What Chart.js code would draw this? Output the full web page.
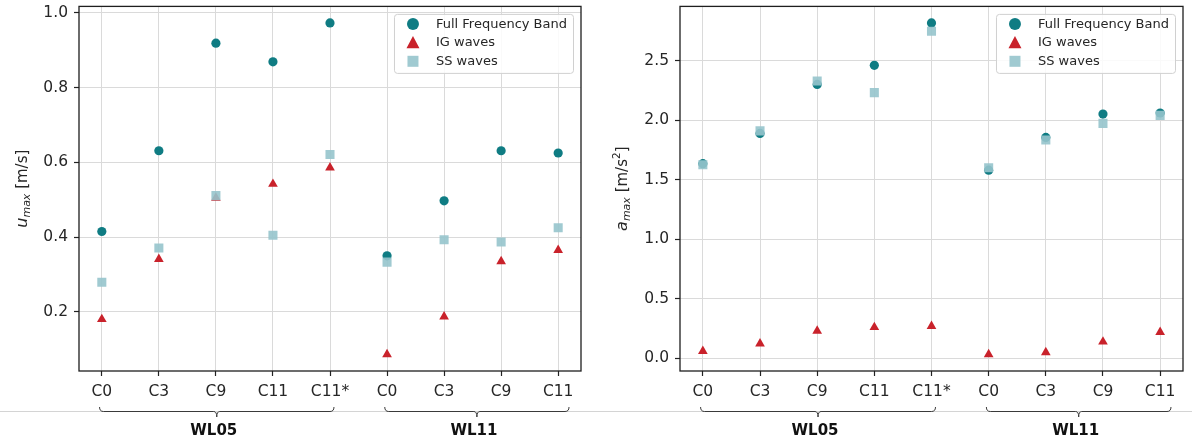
<!DOCTYPE html>
<html>
<head>
<meta charset="utf-8">
<script src="https://cdn.jsdelivr.net/npm/chart.js@4/dist/chart.umd.min.js"></script>
<style>
  html, body { margin: 0; padding: 0; background: #ffffff; }
  #wrap { position: relative; width: 1192px; height: 446px; overflow: hidden; }
  canvas { position: absolute; top: 0; }
</style>
</head>
<body>
<div id="wrap">
  <canvas id="cu" width="596" height="446" style="left:0px"></canvas>
  <canvas id="ca" width="596" height="446" style="left:596px"></canvas>
</div>
<script>
// ---------------- data ----------------
const categories = ['C0', 'C3', 'C9', 'C11', 'C11*', 'C0', 'C3', 'C9', 'C11'];
const groupLabels = ['WL05', 'WL11'];
const groupStart = [0, 5];
const groupEnd = [4, 8];
const seriesNames = ['Full Frequency Band', 'IG waves', 'SS waves'];

const uFull = [0.415, 0.631, 0.919, 0.869, 0.973, 0.350, 0.497, 0.631, 0.625];
const uIG   = [0.180, 0.341, 0.505, 0.542, 0.586, 0.086, 0.187, 0.335, 0.365];
const uSS   = [0.279, 0.371, 0.511, 0.405, 0.621, 0.333, 0.393, 0.387, 0.425];

const aFull = [1.635, 1.889, 2.300, 2.460, 2.816, 1.580, 1.855, 2.051, 2.060];
const aIG   = [0.061, 0.123, 0.231, 0.261, 0.270, 0.033, 0.050, 0.139, 0.220];
const aSS   = [1.625, 1.910, 2.329, 2.231, 2.746, 1.600, 1.834, 1.973, 2.040];

const uTicks = [0.2, 0.4, 0.6, 0.8, 1.0];
const aTicks = [0.0, 0.5, 1.0, 1.5, 2.0, 2.5];

// ---------------- styles ----------------
const COL_FULL = '#0f7c83';
const COL_IG = '#c9222b';
const COL_SS = 'rgba(150,196,204,0.9)';
const FONT = "'DejaVu Sans', sans-serif";
const TXT = '#262626';

function fmtTick(v) { return v.toFixed(1); }

function drawMarker(ctx, style, x, y, r, color) {
  ctx.fillStyle = color;
  ctx.beginPath();
  if (style === 'circle') {
    ctx.arc(x, y, r, 0, Math.PI * 2);
  } else if (style === 'triangle') {
    ctx.moveTo(x, y - r);
    ctx.lineTo(x + r * 1.0, y + r * 0.85);
    ctx.lineTo(x - r * 1.0, y + r * 0.85);
    ctx.closePath();
  } else {
    ctx.rect(x - r, y - r, 2 * r, 2 * r);
  }
  ctx.fill();
}

const decor = {
  id: 'decor',
  afterDraw(chart, args, o) {
    const { ctx, chartArea: a, scales: { x } } = chart;
    ctx.save();
    // spines
    ctx.strokeStyle = '#1e1e1e';
    ctx.lineWidth = 1.3;
    ctx.strokeRect(a.left, a.top, a.right - a.left, a.bottom - a.top);

    // separator line across figure
    ctx.strokeStyle = '#d4d4d4';
    ctx.lineWidth = 1;
    ctx.beginPath();
    ctx.moveTo(0, 411.5);
    ctx.lineTo(chart.width, 411.5);
    ctx.stroke();

    // braces + group labels
    const ext = [0.07, 0.19];
    groupLabels.forEach((lab, gi) => {
      const x0 = x.getPixelForValue(groupStart[gi] - 0.04);
      const x1 = x.getPixelForValue(groupEnd[gi] + ext[gi]);
      const cx = (x0 + x1) / 2;
      const yT = 407, yM = 411.5, yB = 417;
      ctx.strokeStyle = '#3a3a3a';
      ctx.lineWidth = 1;
      ctx.beginPath();
      ctx.moveTo(x0, yT);
      ctx.quadraticCurveTo(x0, yM, x0 + 4, yM);
      ctx.lineTo(cx - 3, yM);
      ctx.quadraticCurveTo(cx, yM, cx, yB);
      ctx.quadraticCurveTo(cx, yM, cx + 3, yM);
      ctx.lineTo(x1 - 4, yM);
      ctx.quadraticCurveTo(x1, yM, x1, yT);
      ctx.stroke();
      ctx.fillStyle = '#111';
      ctx.font = "bold 15px " + FONT;
      ctx.textAlign = 'center';
      ctx.textBaseline = 'middle';
      ctx.fillText(lab, cx - 3, 431);
    });

    // y-axis title (rotated, with sub/superscripts)
    const parts = o.title;
    const measure = p => {
      ctx.font = (p.italic ? 'italic ' : '') + p.size + 'px ' + FONT;
      return ctx.measureText(p.t).width;
    };
    const total = parts.reduce((s, p) => s + measure(p), 0);
    const cy = (a.top + a.bottom) / 2;
    ctx.translate(o.titleX, cy);
    ctx.rotate(-Math.PI / 2);
    let px = -total / 2;
    ctx.fillStyle = TXT;
    ctx.textAlign = 'left';
    ctx.textBaseline = 'middle';
    parts.forEach(p => {
      ctx.font = (p.italic ? 'italic ' : '') + p.size + 'px ' + FONT;
      ctx.fillText(p.t, px, p.dy || 0);
      px += ctx.measureText(p.t).width;
    });
    ctx.setTransform(1, 0, 0, 1, 0, 0);

    // legend
    ctx.font = '13px ' + FONT;
    const tw = Math.max(...chart.data.datasets.map(d => ctx.measureText(d.label).width));
    const bw = 42 + tw + 6;
    const bx = a.right - 8 - bw;
    const by = a.top + 7.5;
    const bh = 59;
    ctx.fillStyle = 'rgba(255,255,255,0.85)';
    ctx.strokeStyle = '#d0d0d0';
    ctx.lineWidth = 1;
    ctx.beginPath();
    if (ctx.roundRect) ctx.roundRect(bx + 0.5, by + 0.5, bw, bh, 3); else ctx.rect(bx + 0.5, by + 0.5, bw, bh);
    ctx.fill();
    ctx.stroke();
    chart.data.datasets.forEach((d, i) => {
      const ry = by + 10 + i * 18.7;
      const st = d.pointStyle;
      const r = st === 'circle' ? 6 : (st === 'triangle' ? 6.5 : 5.5);
      drawMarker(ctx, st, bx + 19, ry, r, d.backgroundColor);
      ctx.fillStyle = TXT;
      ctx.textAlign = 'left';
      ctx.textBaseline = 'middle';
      ctx.font = '13px ' + FONT;
      ctx.fillText(d.label, bx + 42, ry + 0.5);
    });
    ctx.restore();
  }
};

function makeChart(id, full, ig, ss, yTicks, yWidth, padRight, title, titleX) {
  const all = full.concat(ig, ss);
  const dmin = Math.min(...all), dmax = Math.max(...all);
  const m = 0.05 * (dmax - dmin);
  const pts = arr => arr.map((v, i) => ({ x: i, y: v }));
  return new Chart(document.getElementById(id), {
    type: 'scatter',
    data: {
      datasets: [
        { label: seriesNames[0], data: pts(full), pointStyle: 'circle', pointRadius: 4.6,
          backgroundColor: COL_FULL, borderWidth: 0, order: 3 },
        { label: seriesNames[1], data: pts(ig), pointStyle: 'triangle', pointRadius: 5.6,
          backgroundColor: COL_IG, borderWidth: 0, order: 2 },
        { label: seriesNames[2], data: pts(ss), pointStyle: 'rect', pointRadius: 6.4,
          backgroundColor: COL_SS, borderWidth: 0, order: 1 }
      ]
    },
    options: {
      responsive: false,
      animation: false,
      devicePixelRatio: 1,
      layout: { padding: { left: 0, top: 5, right: padRight, bottom: 0 } },
      plugins: {
        legend: { display: false },
        tooltip: { enabled: false },
        decor: { title: title, titleX: titleX }
      },
      scales: {
        x: {
          type: 'linear',
          min: -0.4, max: categories.length - 1 + 0.4,
          afterBuildTicks: s => { s.ticks = categories.map((c, i) => ({ value: i })); },
          afterFit: s => { s.height = 75; s.paddingLeft = 0; s.paddingRight = 0; },
          ticks: {
            callback: (v) => categories[v],
            font: { family: FONT, size: 15.5 }, color: TXT, padding: 7,
            maxRotation: 0, autoSkip: false
          },
          grid: { color: '#dadada', lineWidth: 1, tickColor: '#222', tickLength: 5, tickWidth: 1.2 },
          border: { display: false }
        },
        y: {
          min: dmin - m, max: dmax + m,
          afterBuildTicks: s => { s.ticks = yTicks.map(v => ({ value: v })); },
          afterFit: s => { s.width = yWidth; s.paddingTop = 0; s.paddingBottom = 0; },
          ticks: {
            callback: v => fmtTick(v),
            font: { family: FONT, size: 15.5 }, color: TXT, padding: 6
          },
          grid: { color: '#dadada', lineWidth: 1, tickColor: '#222', tickLength: 5, tickWidth: 1.2 },
          border: { display: false }
        }
      }
    },
    plugins: [decor]
  });
}

makeChart('cu', uFull, uIG, uSS, uTicks, 79, 15,
  [ { t: 'u', italic: true, size: 16 }, { t: 'max', italic: true, size: 11, dy: 4 }, { t: ' [m/s]', size: 15 } ],
  23);
makeChart('ca', aFull, aIG, aSS, aTicks, 84, 9,
  [ { t: 'a', italic: true, size: 16 }, { t: 'max', italic: true, size: 11, dy: 4 }, { t: ' [m/s', size: 15 },
    { t: '2', size: 10.5, dy: -6 }, { t: ']', size: 15 } ],
  27);
</script>
</body>
</html>
